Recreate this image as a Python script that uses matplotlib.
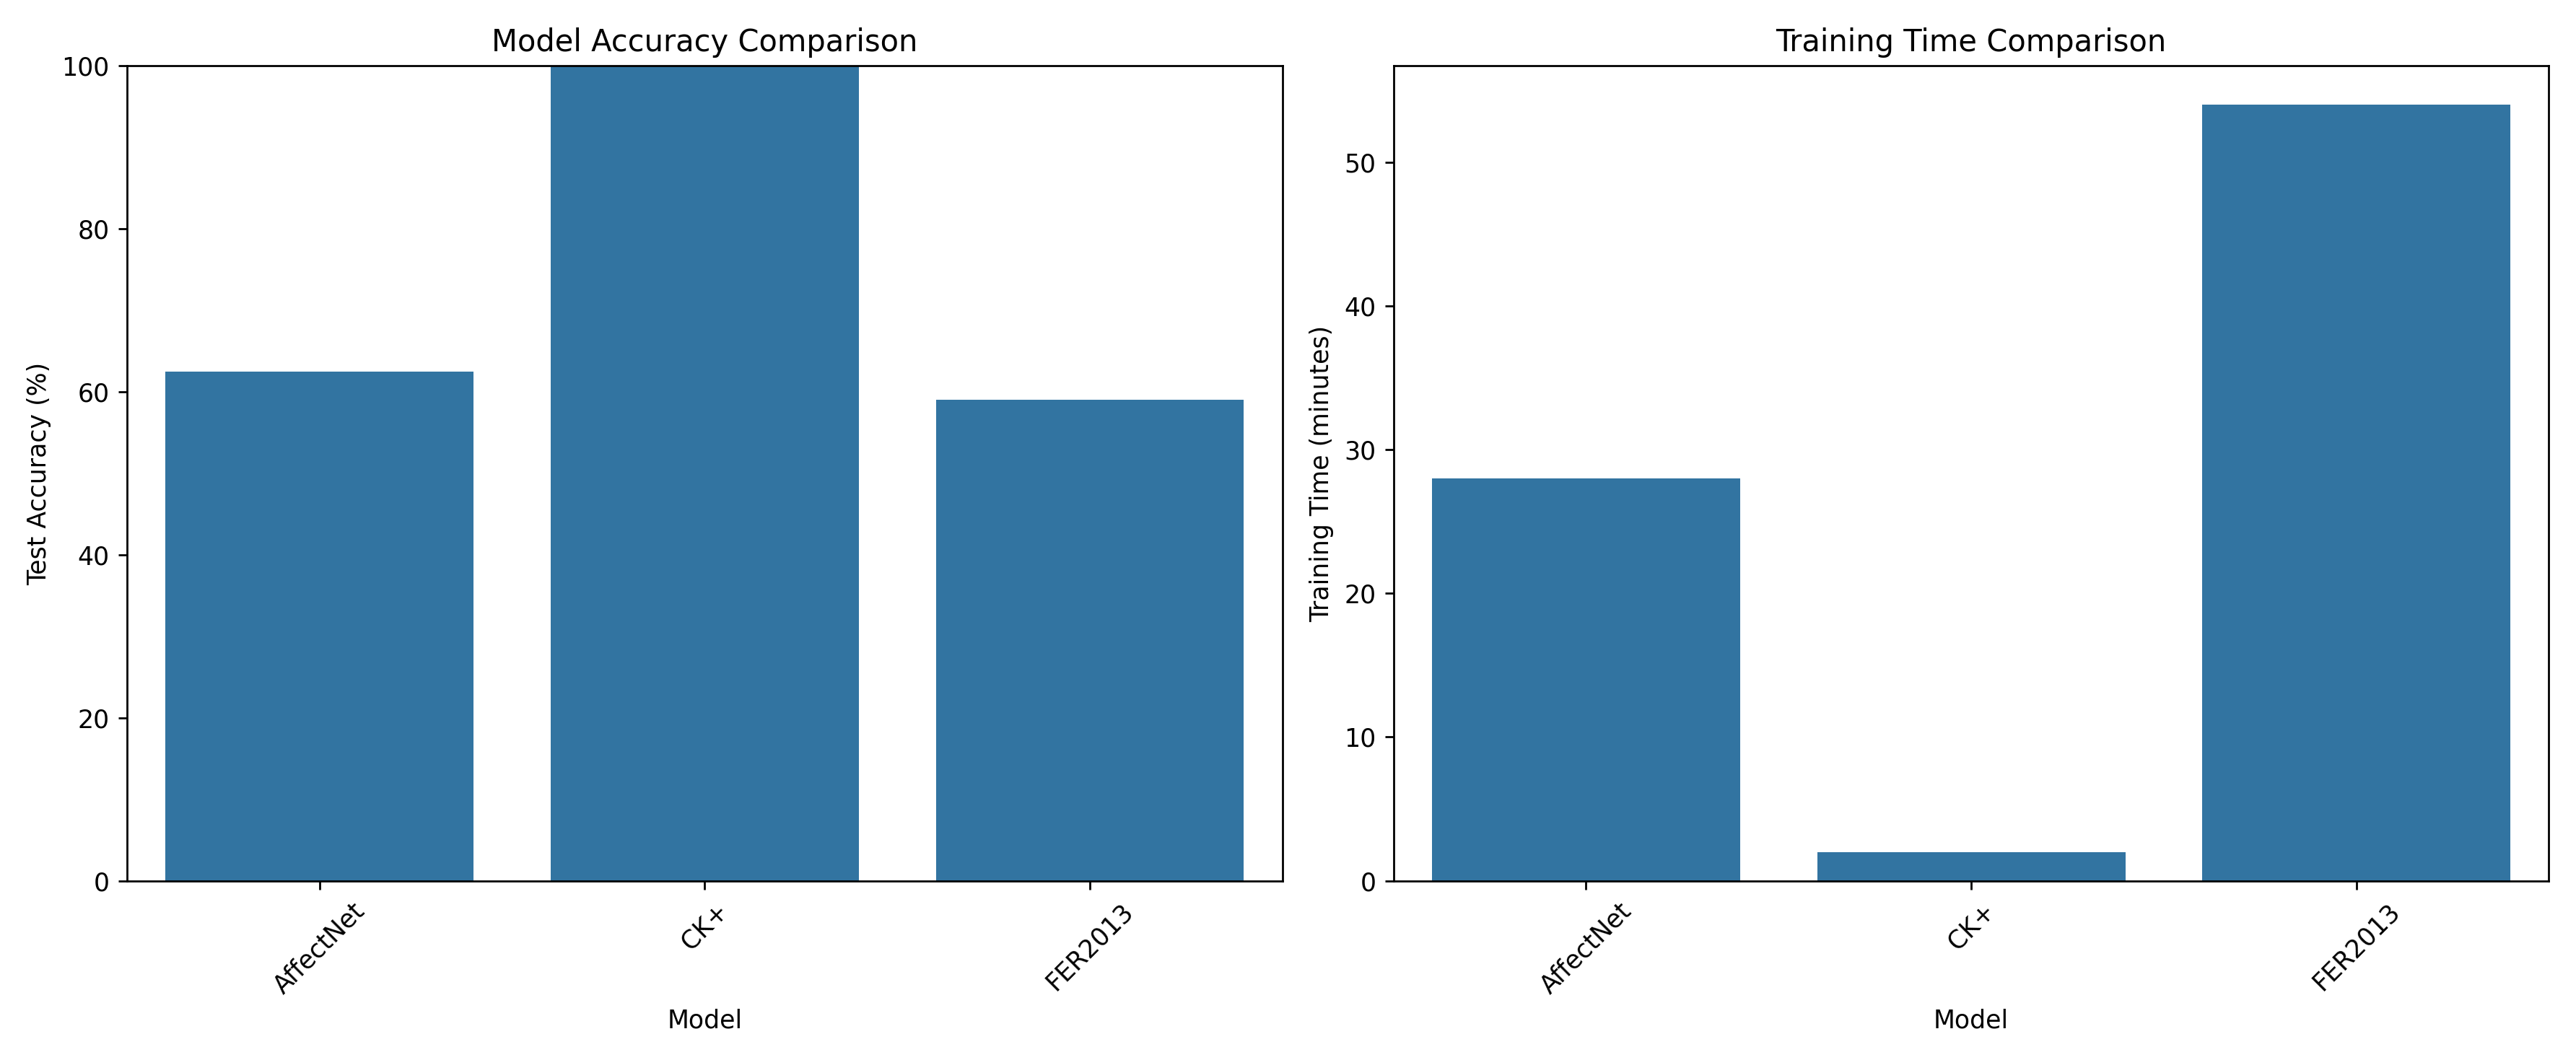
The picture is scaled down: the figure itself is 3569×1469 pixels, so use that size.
import matplotlib
matplotlib.use("Agg")
import matplotlib.pyplot as plt
import seaborn as sns
import pandas as pd

models = ["AffectNet", "CK+", "FER2013"]
accuracy = [62.5, 100.0, 59.0]
train_minutes = [28.0, 2.0, 54.0]

df = pd.DataFrame({"Model": models, "Accuracy": accuracy, "Time": train_minutes})

fig, (ax1, ax2) = plt.subplots(1, 2, figsize=(14.276, 5.876), dpi=250)

sns.barplot(data=df, x="Model", y="Accuracy", ax=ax1)
ax1.set_title("Model Accuracy Comparison")
ax1.set_ylabel("Test Accuracy (%)")
ax1.set_ylim(0, 100)
ax1.tick_params(axis="x", rotation=45)

sns.barplot(data=df, x="Model", y="Time", ax=ax2)
ax2.set_title("Training Time Comparison")
ax2.set_ylabel("Training Time (minutes)")
ax2.tick_params(axis="x", rotation=45)

plt.tight_layout()
plt.savefig("out.png", dpi=250)
